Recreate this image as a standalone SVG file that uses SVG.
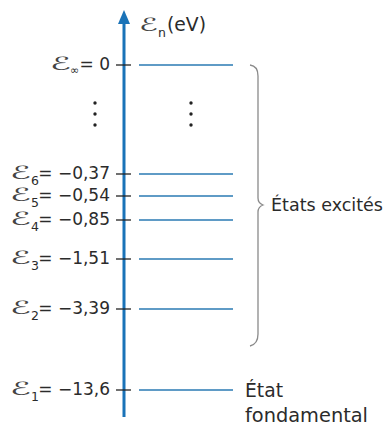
<svg xmlns="http://www.w3.org/2000/svg" width="389" height="425" viewBox="0 0 389 425">
<style>
text{font-family:"DejaVu Sans",sans-serif;font-size:17px;fill:#2b2b2b}
.val{text-anchor:end}
.E{font-family:"DejaVu Sans",sans-serif;font-size:18px;fill:#444}
.sub{font-size:12.5px}
.big{font-size:19px}
.lvl{stroke:#2a7ab3;stroke-width:1.6}
.tick{stroke:#222;stroke-width:1.3}
.dot{fill:#222}
</style>
<defs>
<marker id="ah" viewBox="0 0 14 12" refX="0" refY="6" markerWidth="14" markerHeight="12" markerUnits="userSpaceOnUse" orient="auto">
<path d="M0,0 L14,6 L0,12 Z" fill="#1a73b8"/>
</marker>
</defs>
<rect width="389" height="425" fill="#fff"/>
<g id="connectors">
<line x1="124" y1="417" x2="124" y2="24" stroke="#1a73b8" stroke-width="3" marker-end="url(#ah)"/>
<path d="M250,65 Q258,66 258,76 L258,198 Q258,203 263,205 Q258,207 258,212 L258,334 Q258,344 250,346" fill="none" stroke="#8a8a8a" stroke-width="1.3"/>
</g>
<g id="axis-label">
<text class="E" x="139" y="31" textLength="19" lengthAdjust="spacingAndGlyphs">ℰ</text>
<text class="sub" x="158" y="37" font-size="14">n</text>
<text class="big" x="167" y="31" textLength="39" lengthAdjust="spacingAndGlyphs">(eV)</text>
</g>
<g id="level-inf">
<line class="tick" x1="116" y1="65" x2="131" y2="65"/><line class="lvl" x1="139" y1="65" x2="233" y2="65"/>
<text class="E" x="50" y="70" textLength="21" lengthAdjust="spacingAndGlyphs">ℰ</text>
<text class="sub" x="70" y="74" style="font-size:11px">∞</text>
<text class="val" x="110" y="70">= 0</text>
</g>
<g id="dots">
<circle class="dot" cx="95" cy="103" r="1.7"/><circle class="dot" cx="95" cy="114" r="1.7"/><circle class="dot" cx="95" cy="125" r="1.7"/>
<circle class="dot" cx="191" cy="103" r="1.7"/><circle class="dot" cx="191" cy="114" r="1.7"/><circle class="dot" cx="191" cy="125" r="1.7"/>
</g>
<g id="level-6">
<line class="tick" x1="116" y1="174" x2="131" y2="174"/><line class="lvl" x1="139" y1="174" x2="233" y2="174"/>
<text class="E" x="10" y="179" textLength="21" lengthAdjust="spacingAndGlyphs">ℰ</text>
<text class="sub" x="31" y="184.5">6</text>
<text class="val" x="110" y="179">= −0,37</text>
</g>
<g id="level-5">
<line class="tick" x1="116" y1="196" x2="131" y2="196"/><line class="lvl" x1="139" y1="196" x2="233" y2="196"/>
<text class="E" x="10" y="201" textLength="21" lengthAdjust="spacingAndGlyphs">ℰ</text>
<text class="sub" x="31" y="206.5">5</text>
<text class="val" x="110" y="201">= −0,54</text>
</g>
<g id="level-4">
<line class="tick" x1="116" y1="220" x2="131" y2="220"/><line class="lvl" x1="139" y1="220" x2="233" y2="220"/>
<text class="E" x="10" y="225" textLength="21" lengthAdjust="spacingAndGlyphs">ℰ</text>
<text class="sub" x="31" y="230.5">4</text>
<text class="val" x="110" y="225">= −0,85</text>
</g>
<g id="level-3">
<line class="tick" x1="116" y1="259" x2="131" y2="259"/><line class="lvl" x1="139" y1="259" x2="233" y2="259" stroke="#5c9fc4"/>
<text class="E" x="10" y="264" textLength="21" lengthAdjust="spacingAndGlyphs">ℰ</text>
<text class="sub" x="31" y="269.5">3</text>
<text class="val" x="110" y="264">= −1,51</text>
</g>
<g id="level-2">
<line class="tick" x1="116" y1="309" x2="131" y2="309"/><line class="lvl" x1="139" y1="309" x2="233" y2="309"/>
<text class="E" x="10" y="314" textLength="21" lengthAdjust="spacingAndGlyphs">ℰ</text>
<text class="sub" x="31" y="319.5">2</text>
<text class="val" x="110" y="314">= −3,39</text>
</g>
<g id="level-1">
<line class="tick" x1="116" y1="390" x2="131" y2="390"/><line class="lvl" x1="139" y1="390" x2="233" y2="390"/>
<text class="E" x="10" y="395" textLength="21" lengthAdjust="spacingAndGlyphs">ℰ</text>
<text class="sub" x="31" y="400.5">1</text>
<text class="val" x="110" y="395">= −13,6</text>
</g>
<g id="excited-label"><text x="271" y="211" style="font-size:17.5px">États excités</text></g>
<g id="ground-label">
<text class="big" x="245" y="397" textLength="38" lengthAdjust="spacingAndGlyphs">État</text>
<text class="big" x="245" y="422" textLength="123" lengthAdjust="spacingAndGlyphs">fondamental</text>
</g>
</svg>
